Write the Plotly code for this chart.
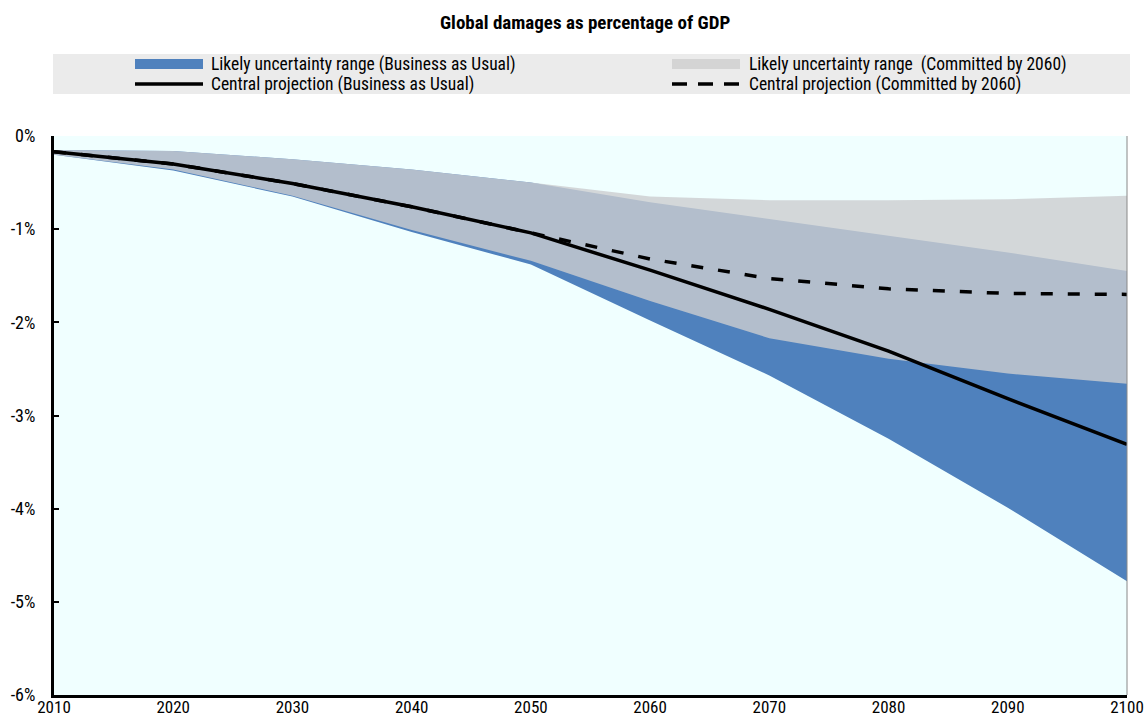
import plotly.graph_objects as go

# Global damages from climate change, % of GDP
years = [2010, 2020, 2030, 2040, 2050, 2060, 2070, 2080, 2090, 2100]

bau_central = [-0.17, -0.30, -0.51, -0.76, -1.04, -1.44, -1.86, -2.31, -2.82, -3.31]
bau_upper = [-0.15, -0.16, -0.25, -0.36, -0.50, -0.71, -0.89, -1.07, -1.25, -1.45]
bau_lower = [-0.20, -0.37, -0.65, -1.03, -1.38, -1.98, -2.57, -3.25, -3.99, -4.78]

com_central = [-0.17, -0.30, -0.51, -0.76, -1.04, -1.32, -1.53, -1.64, -1.69, -1.70]
com_upper = [-0.15, -0.16, -0.25, -0.36, -0.50, -0.65, -0.69, -0.69, -0.68, -0.64]
com_lower = [-0.20, -0.36, -0.64, -1.01, -1.34, -1.77, -2.17, -2.39, -2.55, -2.66]

y_ticks = [0, -1, -2, -3, -4, -5, -6]
y_labels = ["0%", "-1%", "-2%", "-3%", "-4%", "-5%", "-6%"]
x_ticks = years

title_text = "Global damages as percentage of GDP"
legend_labels = [
    "Likely uncertainty range (Business as Usual)",
    "Likely uncertainty range  (Committed by 2060)",
    "Central projection (Business as Usual)",
    "Central projection (Committed by 2060)",
]

FONT = "Liberation Sans Narrow, Arial Narrow, Roboto Condensed, sans-serif"
BLUE = "#4F81BD"
GREY_BAND = "rgba(204,205,207,0.8)"
PLOT_BG = "#F0FFFF"

W, H = 1145, 717
L, R, T, B = 54, 18, 136, 22


def px_x(p):
    return (p - L) / (W - L - R)


def px_y(p):
    return (H - B - p) / (H - T - B)


fig = go.Figure()

# Business-as-usual band
fig.add_trace(go.Scatter(x=years, y=bau_lower, mode="lines",
                         line=dict(width=0, color=BLUE), showlegend=False,
                         hoverinfo="skip"))
fig.add_trace(go.Scatter(x=years, y=bau_upper, mode="lines", fill="tonexty",
                         fillcolor=BLUE, line=dict(width=0, color=BLUE),
                         showlegend=False, hoverinfo="skip"))
# Committed-by-2060 band, semi-transparent on top
fig.add_trace(go.Scatter(x=years, y=com_lower, mode="lines",
                         line=dict(width=0, color=GREY_BAND), showlegend=False,
                         hoverinfo="skip"))
fig.add_trace(go.Scatter(x=years, y=com_upper, mode="lines", fill="tonexty",
                         fillcolor=GREY_BAND, line=dict(width=0, color=GREY_BAND),
                         showlegend=False, hoverinfo="skip"))
# Central projections
fig.add_trace(go.Scatter(x=years, y=bau_central, mode="lines",
                         line=dict(width=3.5, color="black"), showlegend=False))
fig.add_trace(go.Scatter(x=years, y=com_central, mode="lines",
                         line=dict(width=3.5, color="black", dash="12px,15px"),
                         showlegend=False))

shapes = []
annotations = []

# Legend panel
shapes.append(dict(type="rect", xref="paper", yref="paper",
                   x0=px_x(53), x1=px_x(1130), y0=px_y(94), y1=px_y(54),
                   fillcolor="#EBEBEB", line=dict(width=0), layer="below"))

cols = [(135, 203, 209), (672, 740, 747)]
rows = [64, 84]
# range swatches
shapes.append(dict(type="rect", xref="paper", yref="paper",
                   x0=px_x(cols[0][0]), x1=px_x(cols[0][1]),
                   y0=px_y(69), y1=px_y(59), fillcolor=BLUE, line=dict(width=0)))
shapes.append(dict(type="rect", xref="paper", yref="paper",
                   x0=px_x(cols[1][0]), x1=px_x(cols[1][1]),
                   y0=px_y(69), y1=px_y(59), fillcolor="#D4D4D4", line=dict(width=0)))
# line swatches
shapes.append(dict(type="line", xref="paper", yref="paper",
                   x0=px_x(cols[0][0]), x1=px_x(cols[0][1]),
                   y0=px_y(rows[1]), y1=px_y(rows[1]),
                   line=dict(color="black", width=3.5)))
shapes.append(dict(type="line", xref="paper", yref="paper",
                   x0=px_x(cols[1][0]), x1=px_x(cols[1][1]),
                   y0=px_y(rows[1]), y1=px_y(rows[1]),
                   line=dict(color="black", width=3.5, dash="15px,11px")))

for i, text in enumerate(legend_labels):
    c = cols[i % 2]
    r = rows[i // 2]
    annotations.append(dict(text=text, xref="paper", yref="paper",
                            x=px_x(c[2]), y=px_y(r), xanchor="left",
                            yanchor="middle", showarrow=False,
                            font=dict(family=FONT, size=17.5, color="black")))

# Title
annotations.append(dict(text="<b>" + title_text + "</b>", xref="paper",
                        yref="paper", x=px_x(585), y=px_y(22), xanchor="center",
                        yanchor="middle", showarrow=False,
                        font=dict(family=FONT, size=19, color="black")))

# Right frame edge
shapes.append(dict(type="line", xref="paper", yref="paper", x0=1, x1=1,
                   y0=0, y1=1, line=dict(color="#888888", width=1)))

fig.update_layout(
    width=W, height=H,
    margin=dict(l=L, r=R, t=T, b=B, pad=0, autoexpand=False),
    paper_bgcolor="white",
    plot_bgcolor=PLOT_BG,
    showlegend=False,
    shapes=shapes,
    annotations=annotations,
    font=dict(family=FONT, size=18, color="black"),
    xaxis=dict(range=[2010, 2100], tickvals=x_ticks, ticks="",
               showline=True, linecolor="black", linewidth=3,
               showgrid=False, zeroline=False, automargin=False,
               ticklabelstandoff=-5,
               tickfont=dict(family=FONT, size=17, color="black")),
    xaxis2=dict(range=[2010, 2100], overlaying="x", side="top",
                anchor="y", tickvals=x_ticks, ticks="outside", ticklen=5,
                tickwidth=1.5, tickcolor="black", showticklabels=False,
                showline=True, linecolor="black", linewidth=2,
                showgrid=False, zeroline=False, automargin=False),
    yaxis=dict(range=[-6, 0], tickvals=y_ticks, ticktext=y_labels,
               ticks="inside", ticklen=5, tickwidth=1.5, tickcolor="black",
               showline=True, linecolor="black", linewidth=3,
               showgrid=False, zeroline=False, ticklabelstandoff=12,
               automargin=False,
               tickfont=dict(family=FONT, size=18, color="black")),
)

fig.write_html("out.html")
